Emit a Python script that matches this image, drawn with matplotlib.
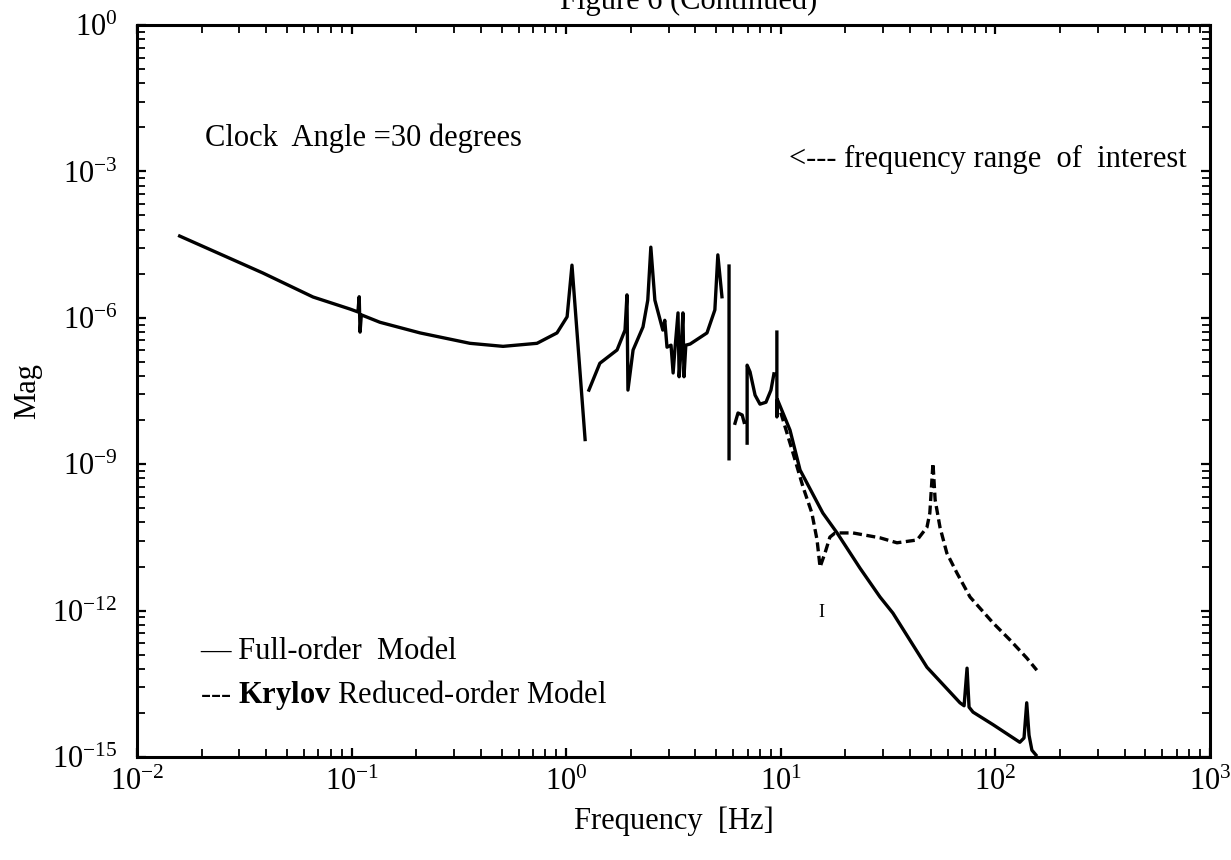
import numpy as np
import matplotlib
matplotlib.use("Agg")
import matplotlib.pyplot as plt
from matplotlib.ticker import FixedLocator, FixedFormatter, LogLocator, NullFormatter

# ---------------- data ----------------
nan = np.nan
full_freq = [0.0158, 0.0386, 0.0661, 0.0984, 0.107, 0.1085, 0.1095, 0.111, 0.1355, 0.2085,
             0.356, 0.508, 0.731, 0.906, 1.01, 1.064, 1.225, nan,
             1.276, 1.435, 1.726, 1.88, 1.92, 1.94, 2.05, 2.28, 2.40, 2.48, 2.59, 2.82,
             2.88, 2.95, 3.08, 3.15, 3.21, 3.32, 3.36, 3.43, 3.50, 3.54, 3.61, 3.78,
             4.53, 4.93, 5.09, 5.32, nan,
             5.74, 5.74, nan,
             6.12, 6.32, 6.61, 6.75, nan,
             6.97, 6.97, 7.19, 7.59, 8.00, 8.53, 9.00, 9.29, nan,
             9.59, 9.59, 9.65, 11.04, 12.3, 15.7, 18.3, 23.4, 29.0, 33.3, 48.0, 68.4,
             71.5, 73.8, 75.4, 78.7, 97.5, 130.0, 136.0, 140.0, 143.5, 148.0, 154.5]
full_mag = [4.74e-5, 8.28e-6, 2.67e-6, 1.51e-6, 1.32e-6, 2.7e-6, 5.1e-7, 1.15e-6, 8.1e-7, 4.9e-7,
            3.0e-7, 2.6e-7, 3.0e-7, 4.9e-7, 1.05e-6, 1.2e-5, 3.2e-9, nan,
            3.3e-8, 1.17e-7, 2.19e-7, 5.6e-7, 2.95e-6, 3.3e-8, 2.19e-7, 6.5e-7, 2.3e-6, 2.8e-5, 2.3e-6, 5.6e-7,
            8.9e-7, 2.5e-7, 2.75e-7, 7.4e-8, 2.19e-7, 1.26e-6, 6.2e-8, 2.19e-7, 1.26e-6, 6.2e-8, 2.75e-7, 2.9e-7,
            4.9e-7, 1.45e-6, 1.95e-5, 2.7e-6, nan,
            1.15e-5, 1.29e-9, nan,
            6.9e-9, 1.12e-8, 1.02e-8, 7.2e-9, nan,
            2.7e-9, 1.07e-7, 7.8e-8, 2.6e-8, 1.7e-8, 1.86e-8, 3.3e-8, 7.1e-8, nan,
            5.1e-7, 9.3e-9, 2.1e-8, 5.0e-9, 7.6e-10, 1.0e-10, 3.9e-11, 7.4e-12, 1.9e-12, 8.9e-13, 6.9e-14, 1.29e-14,
            1.12e-14, 6.6e-14, 1.05e-14, 8.3e-15, 4.6e-15, 2.0e-15, 2.45e-15, 1.29e-14, 2.8e-15, 1.38e-15, 1.1e-15]

krylov_freq = [9.59, 11.4, 12.7, 13.96, 14.76, 15.24, 16.07, 16.94, 17.9, 21.7, 29.0, 34.8,
               43.2, 48.0, 49.5, 51.2, 52.4, 55.2, 59.4, 66.2, 76.2, 97.5, 117.0, 140.0, 156.0]
krylov_mag = [2.1e-8, 1.7e-9, 3.4e-10, 1.0e-10, 2.8e-11, 7.8e-12, 1.51e-11, 3.2e-11, 3.9e-11, 3.9e-11,
              3.1e-11, 2.45e-11, 2.8e-11, 5.1e-11, 1.0e-10, 1.05e-9, 1.86e-10, 5.1e-11, 1.51e-11,
              5.9e-12, 1.9e-12, 5.6e-13, 2.5e-13, 1.07e-13, 6.0e-14]

x_ticks = [1e-2, 1e-1, 1e0, 1e1, 1e2, 1e3]
x_tick_labels = [r'$10^{-2}$', r'$10^{-1}$', r'$10^{0}$', r'$10^{1}$', r'$10^{2}$', r'$10^{3}$']
y_ticks = [1e-15, 1e-12, 1e-9, 1e-6, 1e-3, 1e0]
y_tick_labels = [r'$10^{-15}$', r'$10^{-12}$', r'$10^{-9}$', r'$10^{-6}$', r'$10^{-3}$', r'$10^{0}$']

# ---------------- style ----------------
plt.rcParams['font.family'] = ['Liberation Serif', 'DejaVu Serif']
plt.rcParams['mathtext.fontset'] = 'custom'
plt.rcParams['mathtext.rm'] = 'Liberation Serif'
plt.rcParams['mathtext.it'] = 'Liberation Serif:italic'
plt.rcParams['mathtext.bf'] = 'Liberation Serif:bold'

FS = 22

fig = plt.figure(figsize=(12.31, 8.6), dpi=100)
ax = fig.add_axes([0.1113, 0.1198, 0.8716, 0.8511])

ax.plot(full_freq, full_mag, color='black', lw=2.4, solid_joinstyle='round')
kl, = ax.plot(krylov_freq, krylov_mag, color='black', lw=2.4, linestyle='--')
kl.set_dashes([2.7, 1.35])

ax.set_xscale('log')
ax.set_yscale('log')
ax.set_xlim(1e-2, 1e3)
ax.set_ylim(1e-15, 1e0)

ax.xaxis.set_major_locator(FixedLocator(x_ticks))
ax.xaxis.set_major_formatter(FixedFormatter(x_tick_labels))
ax.xaxis.set_minor_locator(LogLocator(base=10, subs=range(2, 10)))
ax.xaxis.set_minor_formatter(NullFormatter())

y_minor = [m ** 3 * 10.0 ** (3 * k) for k in range(-5, 0) for m in range(2, 10)]
ax.yaxis.set_major_locator(FixedLocator(y_ticks))
ax.yaxis.set_major_formatter(FixedFormatter(y_tick_labels))
ax.yaxis.set_minor_locator(FixedLocator(y_minor))
ax.yaxis.set_minor_formatter(NullFormatter())

ax.tick_params(which='both', direction='in', top=True, right=True, labelsize=FS)
ax.tick_params(which='major', length=6.5, width=1.6)
ax.tick_params(which='minor', length=5.5, width=1.3)
ax.tick_params(axis='y', which='major', pad=14)
ax.tick_params(axis='x', which='major', pad=8)

for s in ax.spines.values():
    s.set_linewidth(2.2)

ax.set_xlabel('Frequency  [Hz]', fontsize=FS)
ax.xaxis.set_label_coords(0.5, -0.067)
ax.set_ylabel('Mag', fontsize=FS)
ax.yaxis.set_label_coords(-0.0885, 0.5)

ax.text(0.0634, 0.835, 'Clock  Angle =30 degrees', transform=ax.transAxes,
        fontsize=FS, ha='left', va='baseline')
ax.text(0.9786, 0.806, '<--- frequency range  of  interest', transform=ax.transAxes,
        fontsize=FS, ha='right', va='baseline')
ax.text(0.0587, 0.134, '\u2014 Full-order  Model', transform=ax.transAxes,
        fontsize=FS, ha='left', va='baseline')
ax.text(0.0587, 0.0738, r'--- $\mathbf{Krylov}$ Reduced-order Model', transform=ax.transAxes,
        fontsize=FS, ha='left', va='baseline')
ax.text(0.638, 0.197, 'I', transform=ax.transAxes, fontsize=13, ha='center', va='center')

fig.text(0.559, 0.9895, 'Figure 6 (Continued)', fontsize=FS, ha='center', va='baseline')

fig.savefig('out.png', dpi=100)
